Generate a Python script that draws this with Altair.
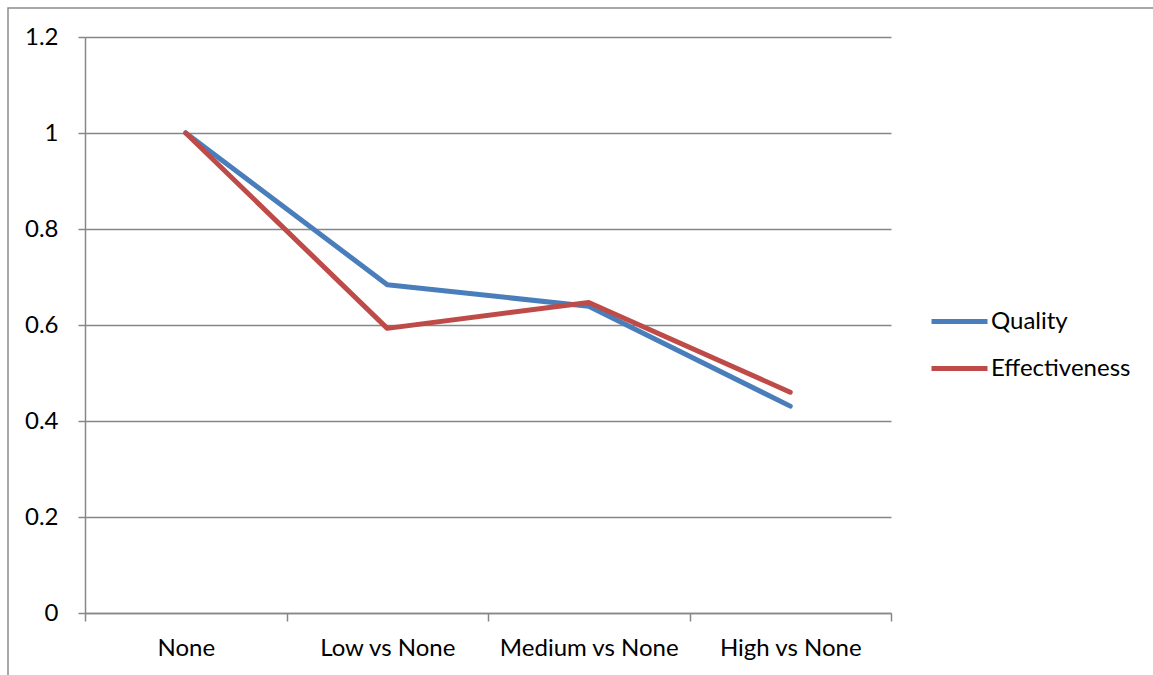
import altair as alt
import pandas as pd

# Categories along the x axis and the two series
categories = ["None", "Low vs None", "Medium vs None", "High vs None"]
quality = [1.0, 0.684, 0.639, 0.431]
effectiveness = [1.0, 0.593, 0.647, 0.460]
series_names = ["Quality", "Effectiveness"]
series_colors = ["#4A7EBB", "#BE4B48"]
y_ticks = [0, 0.2, 0.4, 0.6, 0.8, 1.0, 1.2]

rows = []
for i, cat in enumerate(categories):
    rows.append({"idx": i, "category": cat, "series": "Quality", "value": quality[i]})
    rows.append({"idx": i, "category": cat, "series": "Effectiveness", "value": effectiveness[i]})
df = pd.DataFrame(rows)

FONT = "Lato"
GRID = "#878787"
n = len(categories)
boundaries = [i - 0.5 for i in range(n + 1)]
label_expr = "[" + ",".join("'%s'" % c for c in categories) + "][round(datum.value)]"

x_scale = alt.Scale(domain=[-0.5, n - 0.5], nice=False, zero=False)
y_scale = alt.Scale(domain=[0, 1.2], nice=False)

lines = alt.Chart(df).mark_line(strokeWidth=5, strokeCap="round", strokeJoin="round").encode(
    x=alt.X("idx:Q", scale=x_scale,
            axis=alt.Axis(values=boundaries, labels=False, title=None, grid=False,
                          ticks=True, tickSize=8, tickColor=GRID, tickWidth=1.5,
                          domainColor=GRID, domainWidth=1.5, orient="bottom")),
    y=alt.Y("value:Q", scale=y_scale,
            axis=alt.Axis(values=y_ticks, format="~g", title=None, grid=True,
                          gridColor=GRID, gridWidth=1.5, tickSize=7, tickColor=GRID,
                          tickWidth=1.5, domainColor=GRID, domainWidth=1.5,
                          labelFont=FONT, labelFontSize=24, labelColor="#000000",
                          labelPadding=20)),
    color=alt.Color("series:N",
                    scale=alt.Scale(domain=series_names, range=series_colors),
                    sort=series_names,
                    legend=alt.Legend(title=None, orient="none", legendX=844, legendY=254,
                                      symbolType="stroke", symbolSize=3136,
                                      symbolStrokeWidth=5, labelFont=FONT,
                                      labelFontSize=24, labelColor="#000000",
                                      labelOffset=1, rowPadding=4)),
    detail="series:N",
)

# category names centred under each band
labels_layer = alt.Chart(df).mark_point(opacity=0).encode(
    x=alt.X("idx:Q", scale=x_scale,
            axis=alt.Axis(values=list(range(n)), labelExpr=label_expr, title=None,
                          grid=False, ticks=False, domain=False, orient="bottom",
                          labelFont=FONT, labelFontSize=24, labelColor="#000000",
                          labelPadding=23)),
)

# outer chart frame
frame = alt.Chart(pd.DataFrame({"f": [0]})).mark_rect(
    fill=None, stroke="#8C8C8C", strokeWidth=1.5
).encode(
    x=alt.value(-77), x2=alt.value(1100), y=alt.value(-29), y2=alt.value(700)
)

chart = alt.layer(frame, lines, labels_layer).resolve_axis(x="independent").properties(
    width=806, height=576,
    autosize=alt.AutoSizeParams(type="none"),
    padding={"left": 85, "top": 37, "right": 262, "bottom": 62},
).configure_view(stroke=None)

chart.save("out.html", embed_options={"renderer": "svg", "actions": False})
